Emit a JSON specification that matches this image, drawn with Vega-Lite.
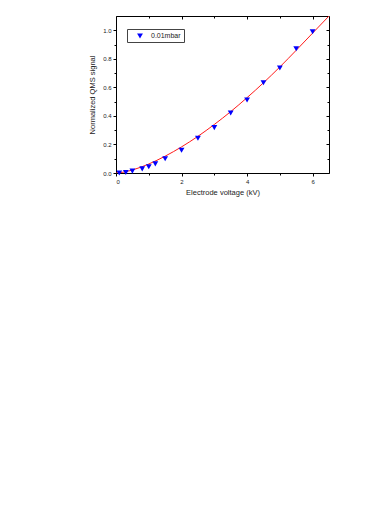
{
  "$schema": "https://vega.github.io/schema/vega-lite/v6.json",
  "autosize": {"type": "none"},
  "padding": {"left": 116, "top": 16, "right": 61, "bottom": 332},
  "width": 213,
  "height": 157,
  "background": "white",
  "config": {
    "view": {"stroke": "black", "strokeWidth": 1},
    "font": "Liberation Sans",
    "axis": {"grid": false, "domainColor": "black", "tickColor": "black", "labelColor": "#222", "titleColor": "#222", "labelFont": "Liberation Sans", "titleFont": "Liberation Sans", "labelFontSize": 6, "titleFontSize": 7.5, "titleFontWeight": "normal", "domain": false}
  },
  "datasets": {
    "fit": [
      {"v": 0, "s": 0},
      {"v": 0.25, "s": 0.007},
      {"v": 0.5, "s": 0.021},
      {"v": 0.75, "s": 0.04},
      {"v": 1.0, "s": 0.063},
      {"v": 1.5, "s": 0.118},
      {"v": 2.0, "s": 0.183},
      {"v": 2.5, "s": 0.257},
      {"v": 3.0, "s": 0.34},
      {"v": 3.5, "s": 0.43},
      {"v": 4.0, "s": 0.528},
      {"v": 4.5, "s": 0.632},
      {"v": 5.0, "s": 0.743},
      {"v": 5.5, "s": 0.86},
      {"v": 6.0, "s": 0.98},
      {"v": 6.5, "s": 1.1}
    ],
    "pts": [
      {"v": 0.1, "s": 0.0, "series": "0.01mbar"},
      {"v": 0.3, "s": 0.004, "series": "0.01mbar"},
      {"v": 0.5, "s": 0.013, "series": "0.01mbar"},
      {"v": 0.8, "s": 0.029, "series": "0.01mbar"},
      {"v": 1.0, "s": 0.044, "series": "0.01mbar"},
      {"v": 1.2, "s": 0.064, "series": "0.01mbar"},
      {"v": 1.5, "s": 0.1, "series": "0.01mbar"},
      {"v": 2.0, "s": 0.159, "series": "0.01mbar"},
      {"v": 2.5, "s": 0.243, "series": "0.01mbar"},
      {"v": 3.0, "s": 0.318, "series": "0.01mbar"},
      {"v": 3.5, "s": 0.42, "series": "0.01mbar"},
      {"v": 4.0, "s": 0.512, "series": "0.01mbar"},
      {"v": 4.5, "s": 0.633, "series": "0.01mbar"},
      {"v": 5.0, "s": 0.736, "series": "0.01mbar"},
      {"v": 5.5, "s": 0.871, "series": "0.01mbar"},
      {"v": 6.0, "s": 0.99, "series": "0.01mbar"}
    ]
  },
  "layer": [
    {
      "data": {"name": "fit"},
      "mark": {"type": "line", "color": "#ff1a1a", "strokeWidth": 1, "interpolate": "monotone", "clip": true},
      "encoding": {
        "x": {"field": "v", "type": "quantitative", "scale": {"domain": [0, 6.5], "nice": false},
          "axis": {"orient": "bottom", "title": "Electrode voltage (kV)", "values": [0, 1, 2, 3, 4, 5, 6],
            "labelExpr": "datum.value % 2 == 0 ? datum.label : ''",
            "tickSize": {"condition": {"test": "datum.value % 2 == 0", "value": 3}, "value": 2},
            "labelPadding": 2, "titlePadding": 4}},
        "y": {"field": "s", "type": "quantitative", "scale": {"domain": [0, 1.1], "nice": false},
          "axis": {"orient": "left", "title": "Normalized QMS signal", "values": [0, 0.1, 0.2, 0.3, 0.4, 0.5, 0.6, 0.7, 0.8, 0.9, 1.0],
            "format": ".1f",
            "labelExpr": "round(datum.value * 10) % 2 == 0 ? datum.label : ''",
            "tickSize": {"condition": {"test": "round(datum.value * 10) % 2 == 0", "value": 3}, "value": 2},
            "labelPadding": 2, "titlePadding": 6}}
      }
    },
    {
      "data": {"name": "pts"},
      "mark": {"type": "point", "shape": "triangle-down", "filled": true, "size": 34, "opacity": 1},
      "encoding": {
        "x": {"field": "v", "type": "quantitative",
          "axis": {"orient": "top", "title": null, "labels": false, "values": [0, 1, 2, 3, 4, 5, 6],
            "tickSize": {"condition": {"test": "datum.value % 2 == 0", "value": -3}, "value": -2}}},
        "y": {"field": "s", "type": "quantitative",
          "axis": {"orient": "right", "title": null, "labels": false, "values": [0, 0.1, 0.2, 0.3, 0.4, 0.5, 0.6, 0.7, 0.8, 0.9, 1.0],
            "tickSize": {"condition": {"test": "round(datum.value * 10) % 2 == 0", "value": -3}, "value": -2}}},
        "color": {"field": "series", "type": "nominal", "scale": {"range": ["#0000ff"]},
          "legend": {"title": null, "orient": "none", "legendX": 11, "legendY": 13, "symbolType": "triangle-down", "symbolSize": 34,
            "labelFontSize": 7, "labelFont": "Liberation Sans", "labelColor": "#222", "strokeColor": "#444", "padding": 3, "symbolOffset": 6, "labelOffset": 7, "fillColor": "white"}}
      }
    }
  ]
}
